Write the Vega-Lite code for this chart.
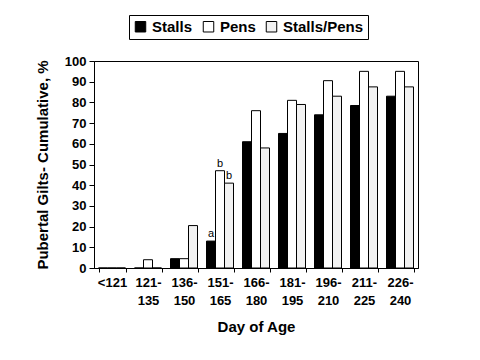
{
  "$schema": "https://vega.github.io/schema/vega-lite/v6.json",
  "width": 324,
  "height": 207,
  "autosize": {"type": "none"},
  "padding": {"left": 94, "top": 61, "right": 62, "bottom": 92},
  "background": "white",
  "config": {
    "font": "Liberation Sans",
    "view": {"stroke": "black", "strokeWidth": 1},
    "axis": {"labelFont": "Liberation Sans", "titleFont": "Liberation Sans", "labelFontWeight": "bold", "titleFontWeight": "bold", "labelColor": "black", "titleColor": "black", "domainColor": "black", "tickColor": "black", "grid": false}
  },
  "datasets": {
    "bars": [
      {"age": "<121", "group": "Stalls", "pct": 0},
      {"age": "<121", "group": "Pens", "pct": 0},
      {"age": "<121", "group": "Stalls/Pens", "pct": 0},
      {"age": "121-135", "group": "Stalls", "pct": 0},
      {"age": "121-135", "group": "Pens", "pct": 4},
      {"age": "121-135", "group": "Stalls/Pens", "pct": 0},
      {"age": "136-150", "group": "Stalls", "pct": 4.5},
      {"age": "136-150", "group": "Pens", "pct": 4.5},
      {"age": "136-150", "group": "Stalls/Pens", "pct": 20.5},
      {"age": "151-165", "group": "Stalls", "pct": 13},
      {"age": "151-165", "group": "Pens", "pct": 47},
      {"age": "151-165", "group": "Stalls/Pens", "pct": 41},
      {"age": "166-180", "group": "Stalls", "pct": 61},
      {"age": "166-180", "group": "Pens", "pct": 76},
      {"age": "166-180", "group": "Stalls/Pens", "pct": 58},
      {"age": "181-195", "group": "Stalls", "pct": 65},
      {"age": "181-195", "group": "Pens", "pct": 81},
      {"age": "181-195", "group": "Stalls/Pens", "pct": 79},
      {"age": "196-210", "group": "Stalls", "pct": 74},
      {"age": "196-210", "group": "Pens", "pct": 90.5},
      {"age": "196-210", "group": "Stalls/Pens", "pct": 83},
      {"age": "211-225", "group": "Stalls", "pct": 78.5},
      {"age": "211-225", "group": "Pens", "pct": 95},
      {"age": "211-225", "group": "Stalls/Pens", "pct": 87.5},
      {"age": "226-240", "group": "Stalls", "pct": 83},
      {"age": "226-240", "group": "Pens", "pct": 95},
      {"age": "226-240", "group": "Stalls/Pens", "pct": 87.5}
    ],
    "notes": [
      {"age": "151-165", "group": "Stalls", "pct": 13, "note": "a"},
      {"age": "151-165", "group": "Pens", "pct": 47, "note": "b"},
      {"age": "151-165", "group": "Stalls/Pens", "pct": 41, "note": "b"}
    ]
  },
  "encoding": {
    "x": {
      "field": "age", "type": "nominal", "sort": null,
      "scale": {"paddingInner": 0.25, "paddingOuter": 0.125},
      "axis": {
        "title": "Day of Age", "titleFontSize": 15, "titlePadding": 12,
        "labelAngle": 0, "labelFontSize": 13, "labelPadding": 4, "tickBand": "extent", "tickSize": 4,
        "labelLineHeight": 18,
        "labelExpr": "indexof(datum.label,'-')>0 ? [split(datum.label,'-')[0]+'-', split(datum.label,'-')[1]] : datum.label"
      }
    },
    "xOffset": {"field": "group", "type": "nominal", "sort": ["Stalls", "Pens", "Stalls/Pens"], "scale": {"paddingInner": 0, "paddingOuter": 0}},
    "y": {
      "field": "pct", "type": "quantitative",
      "scale": {"domain": [0, 100]},
      "axis": {"title": "Pubertal Gilts- Cumulative, %", "titleFontSize": 15, "titlePadding": 14, "values": [0,10,20,30,40,50,60,70,80,90,100], "labelFontSize": 13, "tickSize": 5, "labelPadding": 3}
    }
  },
  "layer": [
    {
      "data": {"name": "bars"},
      "mark": {"type": "bar", "stroke": "black", "strokeWidth": 1},
      "encoding": {
        "fill": {
          "field": "group", "type": "nominal", "sort": ["Stalls", "Pens", "Stalls/Pens"],
          "scale": {"domain": ["Stalls", "Pens", "Stalls/Pens"], "range": ["black", "white", "#f2f2f2"]},
          "legend": {
            "title": null, "orient": "none", "direction": "horizontal",
            "legendX": 35, "legendY": -46,
            "symbolType": "square", "symbolSize": 110, "symbolStrokeColor": "black", "symbolStrokeWidth": 1,
            "labelFontSize": 15, "labelFontWeight": "bold", "labelColor": "black", "labelFont": "Liberation Sans",
            "columnPadding": 8, "symbolOffset": 0,
            "strokeColor": "black", "padding": 4, "fillColor": "white"
          }
        }
      }
    },
    {
      "data": {"name": "notes"},
      "mark": {"type": "text", "dy": -7, "fontSize": 11, "font": "Liberation Sans", "color": "black"},
      "encoding": {"text": {"field": "note"}}
    }
  ]
}
